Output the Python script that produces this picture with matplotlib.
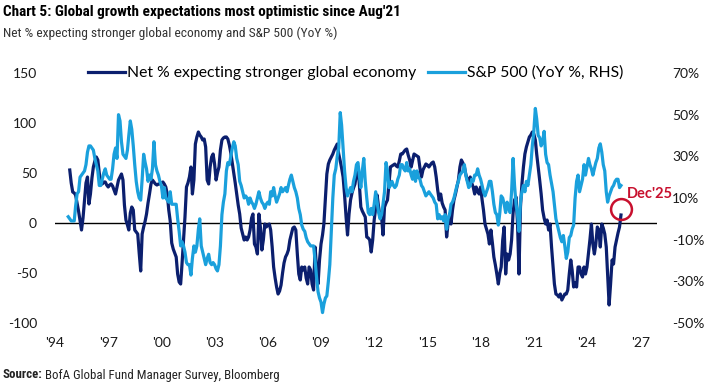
import matplotlib
matplotlib.use('Agg')
import matplotlib.pyplot as plt
from matplotlib import font_manager
import pandas as pd

# Net % expecting stronger global economy (FMS), monthly from Nov 1994
fms_start = '1994-11-01'
fms = [
    53, 40,                                                   # 1994
    31, 30, 28, 20, 12, 2, -7, 5, 23, 40, 46, 19,             # 1995
    29, 45, 56, 62, 66, 63, 50, 40, 39, 41, 41, 38,           # 1996
    36, 38, 39, 37, 33, 29, 36, 43, 46, 49, 43, 18,           # 1997
    3, -2, -7, 10, 16, 13, -7, -9, -11, -30, -48, -11,        # 1998
    -4, 2, 9, 20, 29, 39, 43, 41, 39, 38, 39, 39,             # 1999
    40, 41, 39, 36, 29, 13, 2, -20, -26, -30, -34, -51,       # 2000
    -59, -61, -41, -17, 6, 36, 40, 46, 56, 29, 43, 79,        # 2001
    86, 91, 88, 86, 83, 84, 76, 43, 39, 56, 66, 69,           # 2002
    59, 43, 50, 56, 73, 83, 85, 86, 86, 84, 78, 70,           # 2003
    60, 50, 40, 29, 18, 9, -5, -11, -17, -14, -17, -14,       # 2004
    -7, 5, 9, -21, -24, -31, 9, -4, -27, -17, -1, -4,         # 2005
    -2, -1, -7, -24, -44, -55, -64, -71, -68, -62, -50, -40,  # 2006
    -34, -31, -27, -17, -11, -5, -4, -7, -31, -51, -57, -44,  # 2007
    -47, -44, -55, -61, -44, -47, -61, -67, -24, -45, -61, -37,  # 2008
    -21, -12, -1, 25, 49, 59, 63, 66, 69, 73, 76, 79,         # 2009
    69, 62, 55, 46, 28, 6, -12, 9, 23, 30, 35, 39,            # 2010
    49, 56, 39, 16, 12, 9, 6, -14, -15, -17, -29, -17,        # 2011
    3, 15, 28, 16, 6, 6, -12, 16, 20, 23, 39, 56,             # 2012
    57, 58, 59, 57, 56, 62, 69, 69, 71, 73, 74, 68,           # 2013
    63, 56, 62, 69, 68, 67, 66, 55, 46, 53, 56, 59,           # 2014
    58, 56, 58, 60, 61, 56, 46, 33, 23, 29, 20, 16,           # 2015
    13, -14, -1, 9, -1, 13, 23, 29, 36, 43, 56, 63,           # 2016
    60, 56, 49, 43, 39, 46, 40, 36, 29, 36, 32, 29,           # 2017
    36, 23, 13, -1, -6, -11, -21, -7, -20, -34, -42, -51,     # 2018
    -61, -50, -44, -17, -4, -51, -31, -37, -31, -17, 10, 23,  # 2019
    26, -1, -51, 16, 39, 56, 69, 76, 81, 86, 88, 91,          # 2020
    89, 83, 69, 56, 43, 29, 13, 5, -1, 3, -7, -1,             # 2021
    -24, -44, -61, -71, -72, -74, -71, -77, -74, -71, -71, -67,  # 2022
    -51, -37, -47, -64, -60, -64, -44, -44, -51, -54, -44, -51,  # 2023
    -44, -30, -17, -1, -21, -31, -21, -4, -7, -24, -1, -5,    # 2024
    -11, -24, -51, -82, -61, -37, -41, -24, -17, -10, -4, 8,  # 2025
]

# S&P 500 YoY %, monthly from Oct 1994
spx_start = '1994-10-01'
spx = [
    1, 0, -1,                                                 # 1994
    -1, -1, 6, 12, 13, 20, 21, 22, 23, 26, 32, 35,            # 1995
    35, 34, 33, 29, 26, 23, 16, 16, 19, 22, 24, 21,           # 1996
    20, 19, 19, 24, 31, 34, 29, 50, 47, 37, 31, 30,           # 1997
    29, 33, 40, 47, 43, 35, 26, 18, 13, 10, 9, 19,            # 1998
    31, 27, 24, 18, 21, 19, 24, 37, 26, 23, 21, 18,           # 1999
    16, 10, 15, 10, 9, 8, 13, 7, 7, 7, 7, 0,                  # 2000
    -6, -13, -11, -13, -16, -21, -22, -22, -27, -19, -13, -16,  # 2001
    -13, -5, 0, -13, -16, -19, -22, -19, -17, -21, -22, -21,  # 2002
    -22, -24, -25, -22, -13, 2, 8, 12, 23, 27, 26, 30,        # 2003
    34, 37, 35, 29, 26, 18, 16, 13, 10, 11, 10, 7,            # 2004
    10, 8, 7, 5, 7, 10, 13, 10, 8, 7, 5, 7,                   # 2005
    8, 7, 13, 11, 15, 11, 8, 10, 12, 15, 13, 14,              # 2006
    15, 13, 16, 19, 21, 18, 15, 13, 10, 5, 2, -3,             # 2007
    -5, -6, -9, -11, -12, -13, -13, -13, -20, -28, -35, -38,  # 2008
    -40, -45, -41, -38, -37, -30, -22, -6, 10, 21, 24, 30,    # 2009
    34, 51, 45, 34, 23, 15, 11, 13, 15, 13, 18, 21,           # 2010
    26, 27, 21, 15, 23, 29, 18, 10, 3, 2, 5, 2,               # 2011
    7, 13, 8, 3, 0, 2, 7, 13, 27, 23, 15, 16,                 # 2012
    18, 16, 15, 16, 19, 21, 26, 26, 24, 23, 27, 23,           # 2013
    24, 21, 19, 23, 18, 23, 20, 19, 16, 15, 13, 11,           # 2014
    12, 13, 12, 11, 10, 8, 7, 0, 2, 0, 1, -1,                 # 2015
    2, -5, 0, 2, 7, 8, 10, 13, 16, 18, 21, 22,                # 2016
    23, 26, 21, 18, 15, 16, 19, 18, 21, 21, 24, 21,           # 2017
    19, 16, 13, 11, 13, 15, 18, 18, 13, 7, 3, 2,              # 2018
    -3, 3, 11, 10, 7, 3, 8, 5, 3, 13, 29, 16,                 # 2019
    7, 2, -6, 8, 13, 16, 13, 18, 16, 21, 26, 35,              # 2020
    42, 53, 48, 40, 39, 35, 37, 42, 31, 27, 26, 21,           # 2021
    17, 13, 7, 0, -3, -6, -9, -11, -8, -13, -19, -16,         # 2022
    -9, -8, -5, -3, 10, 18, 21, 13, 16, 19, 26, 21,           # 2023
    25, 29, 26, 24, 21, 24, 27, 29, 34, 36, 32, 26,           # 2024
    23, 13, 8, 11, 13, 15, 16, 18, 19, 19, 15, 16,            # 2025
]

tick_years = list(range(1994, 2028, 3))
left_ticks = [-100, -50, 0, 50, 100, 150]
right_ticks = [-50, -30, -10, 10, 30, 50, 70]

DARK = '#0b1f6e'
LIGHT = '#1aa0dc'
RED = '#c8102e'

names = {f.name for f in font_manager.fontManager.ttflist}


def pick(*cands):
    for c in cands:
        if c in names:
            return c
    return 'DejaVu Sans'


BODY = pick('Lato', 'Open Sans', 'Noto Sans')
NARROW = pick('Liberation Sans Narrow', 'Roboto Condensed', 'DejaVu Sans Condensed', 'Lato')
plt.rcParams['font.family'] = [BODY, 'DejaVu Sans']

fms_dates = pd.date_range(fms_start, periods=len(fms), freq='MS')
spx_dates = pd.date_range(spx_start, periods=len(spx), freq='MS')

W, H = 710, 383
fig = plt.figure(figsize=(W / 100, H / 100), dpi=100)
ax = fig.add_axes([55 / W, 1 - 323 / H, (657 - 55) / W, (323 - 73) / H])
ax2 = ax.twinx()

ax.axhline(0, color='black', lw=1.0, zorder=1)
l1, = ax.plot(fms_dates, fms, color=DARK, lw=2.3, zorder=3,
              label='Net % expecting stronger global economy')
l2, = ax2.plot(spx_dates, spx, color=LIGHT, lw=2.3,
               label='S&P 500 (YoY %, RHS)')

ax.set_xlim(pd.Timestamp('1994-02-10'), pd.Timestamp('2027-12-13'))
ax.set_ylim(-100, 150)
ax2.set_ylim(-50, 70)
ax.set_yticks(left_ticks, [str(v) for v in left_ticks])
ax2.set_yticks(right_ticks, [f'{v}%' for v in right_ticks])
ax.set_xticks([pd.Timestamp(f'{y}-01-01') for y in tick_years],
              [f"'{y % 100:02d}" for y in tick_years])

for a in (ax, ax2):
    for s in a.spines.values():
        s.set_visible(False)
    a.tick_params(length=0, labelsize=10, colors='#1a1a1a')
ax.tick_params(axis='y', pad=13)
ax2.tick_params(axis='y', pad=11)
ax.tick_params(axis='x', pad=10)

# Dec'25 marker
ax.plot(fms_dates[-1], fms[-1] + 6, marker='o', ms=15, mfc='none',
        mec=RED, mew=1.8, zorder=5)
ax.annotate("Dec'25", xy=(fms_dates[-1], fms[-1]), xytext=(4, 15),
            textcoords='offset points', color=RED, fontweight='bold',
            fontsize=10.5, va='center', ha='left')

fig.legend(handles=[l1, l2], loc='center', bbox_to_anchor=(355.5 / W, 1 - 73 / H),
           ncol=2, frameon=False, fontsize=11.3, handlelength=2.35,
           handletextpad=0.12, columnspacing=0.75, borderpad=0)

fig.text(3 / W, 1 - 12 / H, "Chart 5: Global growth expectations most optimistic since Aug'21",
         family=[NARROW, 'DejaVu Sans'], fontweight='bold', fontsize=11,
         va='center', ha='left', color='black')
fig.text(3 / W, 1 - 33 / H, 'Net % expecting stronger global economy and S&P 500 (YoY %)',
         family=[NARROW, 'DejaVu Sans'], fontsize=9.7, va='center', ha='left', color='#333333')

src = fig.text(3 / W, 1 - 375 / H, 'Source:', family=[NARROW, 'DejaVu Sans'],
               fontweight='bold', fontsize=9.3, va='center', ha='left', color='#222222')
fig.canvas.draw()
bb = src.get_window_extent()
fig.text(bb.x1 / W + 2 / W, 1 - 375 / H, 'BofA Global Fund Manager Survey, Bloomberg',
         family=[NARROW, 'DejaVu Sans'], fontsize=9.3, va='center', ha='left', color='#222222')

fig.savefig('out.png', dpi=100)
